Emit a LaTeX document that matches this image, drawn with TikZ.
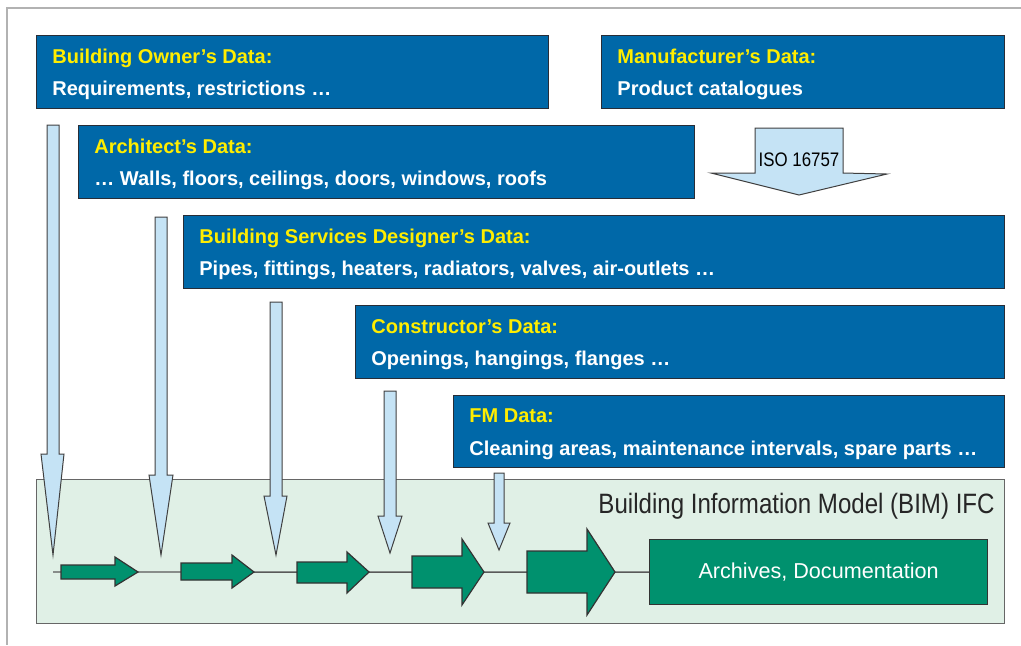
\documentclass[tikz,border=0pt]{standalone}
\usepackage{fontspec}
\setmainfont{Liberation Sans}
\newfontfamily\narrowfont[FakeStretch=0.86]{Liberation Sans}
\usepackage{tikz}

\definecolor{datablue}{RGB}{0,104,168}
\definecolor{headyellow}{RGB}{255,237,0}
\definecolor{flowgreen}{RGB}{0,145,110}
\definecolor{bimbg}{RGB}{224,240,230}
\definecolor{feedblue}{RGB}{197,227,245}
\definecolor{edgedark}{RGB}{40,45,55}

\tikzset{
  databox/.style={draw=edgedark, line width=0.7pt, fill=datablue, anchor=north west,
    minimum height=36.5pt, inner sep=0pt},
  headtxt/.style={anchor=base west, inner sep=0pt, text=headyellow,
    font=\fontsize{10pt}{12pt}\selectfont\bfseries},
  bodytxt/.style={anchor=base west, inner sep=0pt, text=white,
    font=\fontsize{10pt}{12pt}\selectfont\bfseries},
  feed/.style={draw=black!75, line width=0.5pt, fill=feedblue, line join=miter},
  flowarrow/.style={draw=black!80, line width=0.6pt, fill=flowgreen, line join=miter},
  flowline/.style={draw=black!65, line width=0.7pt}
}

\begin{document}
\begin{tikzpicture}[x=0.5pt, y=-0.5pt]
		\useasboundingbox (0,0) rectangle (1021,645);
		% outer frame
		\draw[black!30, line width=0.6pt] (1021,8) -- (7,8) -- (7,645);

		% data boxes
		\node[databox, minimum width=256pt] (owner) at (36,35) {};
		\node[headtxt] (ownerhead) at (52,63) {Building Owner's Data:};
		\node[bodytxt] (ownerbody) at (52,95) {Requirements, restrictions …};

		\node[databox, minimum width=201.5pt] (maker) at (601,35) {};
		\node[headtxt] (makerhead) at (617,63) {Manufacturer's Data:};
		\node[bodytxt] (makerbody) at (617,95) {Product catalogues};

		\node[databox, minimum width=308pt] (architect) at (78,125) {};
		\node[headtxt] (archhead) at (94,153) {Architect's Data:};
		\node[bodytxt] (archbody) at (94,185) {… Walls, floors, ceilings, doors, windows, roofs};

		\node[databox, minimum width=410.5pt] (services) at (183,215) {};
		\node[headtxt] (servhead) at (199,243) {Building Services Designer's Data:};
		\node[bodytxt] (servbody) at (199,275) {Pipes, fittings, heaters, radiators, valves, air-outlets …};

		\node[databox, minimum width=324.5pt] (constructor) at (355,305) {};
		\node[headtxt] (conshead) at (371,333) {Constructor's Data:};
		\node[bodytxt] (consbody) at (371,365) {Openings, hangings, flanges …};

		\node[databox, minimum width=275.5pt, minimum height=36pt] (fm) at (453,395) {};
		\node[headtxt] (fmhead) at (469,422) {FM Data:};
		\node[bodytxt] (fmbody) at (469,455) {Cleaning areas, maintenance intervals, spare parts …};

		% ISO arrow
		\draw[feed] (755,128) -- (843,128) -- (843,173) -- (887,174) -- (799,195) -- (711,173) -- (755,173) -- cycle;
		\node[font=\narrowfont\fontsize{9.8pt}{11pt}\selectfont, inner sep=0pt] (iso) at (799,160) {ISO 16757};

		% model
		\node[draw=black!60, line width=0.7pt, fill=bimbg, anchor=north west,
			minimum width=484pt, minimum height=72pt, inner sep=0pt] (bim) at (36,479) {};
		\node[anchor=base east, inner sep=0pt, text=black!85,
			font=\narrowfont\fontsize{14pt}{16pt}\selectfont] (bimtitle) at (995,513)
			{Building Information Model (BIM) IFC};
		\node[draw=black!80, line width=0.6pt, fill=flowgreen, anchor=north west,
			minimum width=169pt, minimum height=32.5pt, inner sep=0pt] (archives) at (649,539) {};
		\node[text=white, inner sep=0pt, font=\fontsize{10.8pt}{12pt}\selectfont]
			(archtxt) at (archives.center) {Archives, Documentation};

		\coordinate (flowstart) at (53,572);
		\draw[flowline] (flowstart) -- (archives.west);

		% feeds into the model
		\draw[feed] (47,125) -- (59,125) -- (59,454) -- (64,454) -- (53,555) -- (41,454) -- (47,454) -- cycle;
		\draw[feed] (155,217) -- (167,217) -- (167,475) -- (173,475) -- (161,555) -- (149,475) -- (155,475) -- cycle;
		\draw[feed] (270,302) -- (282,302) -- (282,496) -- (287,496) -- (276,555) -- (264,496) -- (270,496) -- cycle;
		\draw[feed] (384,391) -- (396,391) -- (396,516) -- (402,516) -- (390,553) -- (378,516) -- (384,516) -- cycle;
		\draw[feed] (494,473) -- (504,473) -- (504,523) -- (510,523) -- (499,550) -- (488,523) -- (494,523) -- cycle;

		% process arrows
		\draw[flowarrow] (61,565) -- (115,565) -- (115,557) -- (138,572) -- (115,586) -- (115,579) -- (61,579) -- cycle;
		\draw[flowarrow] (181,563) -- (232,563) -- (232,555) -- (254,572) -- (232,588) -- (232,580) -- (181,580) -- cycle;
		\draw[flowarrow] (297,562) -- (347,562) -- (347,552) -- (369,572) -- (347,593) -- (347,583) -- (297,583) -- cycle;
		\draw[flowarrow] (412,556) -- (462,556) -- (462,539) -- (484,572) -- (462,605) -- (462,588) -- (412,588) -- cycle;
		\draw[flowarrow] (527,551) -- (587,551) -- (587,529) -- (615,572) -- (587,615) -- (587,593) -- (527,593) -- cycle;
	\end{tikzpicture}
\end{document}
